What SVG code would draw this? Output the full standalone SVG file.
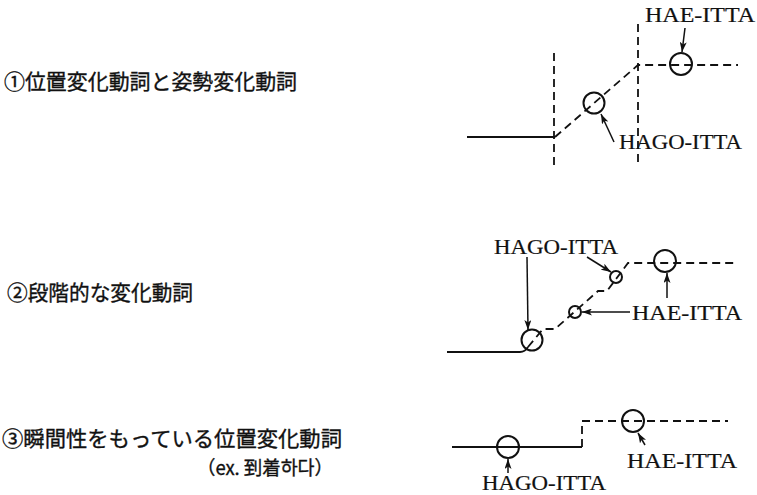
<svg xmlns="http://www.w3.org/2000/svg" width="757" height="495" viewBox="0 0 757 495">
<style>
.jp{font-family:"Noto Sans CJK JP","Noto Sans CJK KR",sans-serif;font-size:21px;fill:#111;stroke:#111;stroke-width:0.35}
.sm{font-size:19px}
.lb{font-family:"Liberation Serif","DejaVu Serif",serif;font-size:22px;fill:#111;stroke:#111;stroke-width:0.2}
.sol{fill:none;stroke:#111;stroke-width:1.8}
.dsh{fill:none;stroke:#111;stroke-width:1.8;stroke-dasharray:8 5}
.cir{fill:none;stroke:#111;stroke-width:2}
.arr{fill:none;stroke:#111;stroke-width:1.5;marker-end:url(#ah)}
</style>
<defs>
<marker id="ah" markerUnits="userSpaceOnUse" markerWidth="10" markerHeight="7" refX="10" refY="3.5" orient="auto">
<path d="M0,0 L10,3.5 L0,7 L2.5,3.5 z" fill="#111"/>
</marker>
</defs>
<rect width="757" height="495" fill="#fff"/>

<g id="titles">
<text class="jp" x="4" y="89" textLength="293" lengthAdjust="spacingAndGlyphs">①位置変化動詞と姿勢変化動詞</text>
<text class="jp" x="7" y="300" textLength="186" lengthAdjust="spacingAndGlyphs">②段階的な変化動詞</text>
<text class="jp" x="2" y="446" textLength="340" lengthAdjust="spacingAndGlyphs">③瞬間性をもっている位置変化動詞</text>
<text class="jp sm" x="197" y="475" textLength="136" lengthAdjust="spacingAndGlyphs">（ex. 到着하다）</text>
</g>

<g id="diagram1">
<path class="sol" d="M467,137 L555,137"/>
<path class="dsh" d="M554,53 L554,168"/>
<path class="dsh" d="M638,24 L638,167"/>
<path class="dsh" d="M555,137 L638,65 L738,65"/>
<circle class="cir" cx="594" cy="103" r="10.5"/>
<circle class="cir" cx="681" cy="64" r="11"/>
<text class="lb" x="645" y="22" textLength="110" lengthAdjust="spacingAndGlyphs">HAE-ITTA</text>
<text class="lb" x="619" y="149" textLength="123" lengthAdjust="spacingAndGlyphs">HAGO-ITTA</text>
</g>

<g id="diagram2">
<path class="sol" d="M447,352 L520,352 Q525,352 528,347"/>
<path class="dsh" d="M528,347 L543,329 L555,329 L598,291 L607,291 L628,263 L737,263"/>
<circle class="cir" cx="532" cy="340" r="10.5"/>
<circle class="cir" cx="575" cy="312" r="6"/>
<circle class="cir" cx="616" cy="277" r="6"/>
<circle class="cir" cx="665" cy="261" r="11"/>
<text class="lb" x="494" y="254" textLength="124" lengthAdjust="spacingAndGlyphs">HAGO-ITTA</text>
<text class="lb" x="632" y="320" textLength="110" lengthAdjust="spacingAndGlyphs">HAE-ITTA</text>
</g>

<g id="diagram3">
<path class="sol" d="M452,447 L582,447"/>
<path class="dsh" d="M582,447 L582,421 L728,421"/>
<circle class="cir" cx="508" cy="447" r="11"/>
<circle class="cir" cx="633" cy="421" r="11"/>
<text class="lb" x="482" y="490" textLength="124" lengthAdjust="spacingAndGlyphs">HAGO-ITTA</text>
<text class="lb" x="627" y="468" textLength="110" lengthAdjust="spacingAndGlyphs">HAE-ITTA</text>
</g>

<g id="connectors">
<path class="arr" d="M685,28 L682,52"/>
<path class="arr" d="M614,142 L601,114"/>
<path class="arr" d="M527,257 L528,330"/>
<path class="arr" d="M587,257 L611,272"/>
<path class="arr" d="M630,312 L582,312"/>
<path class="arr" d="M667,298 L667,273"/>
<path class="arr" d="M508,473 L508,459"/>
<path class="arr" d="M645,445 L638,433"/>
</g>
</svg>
